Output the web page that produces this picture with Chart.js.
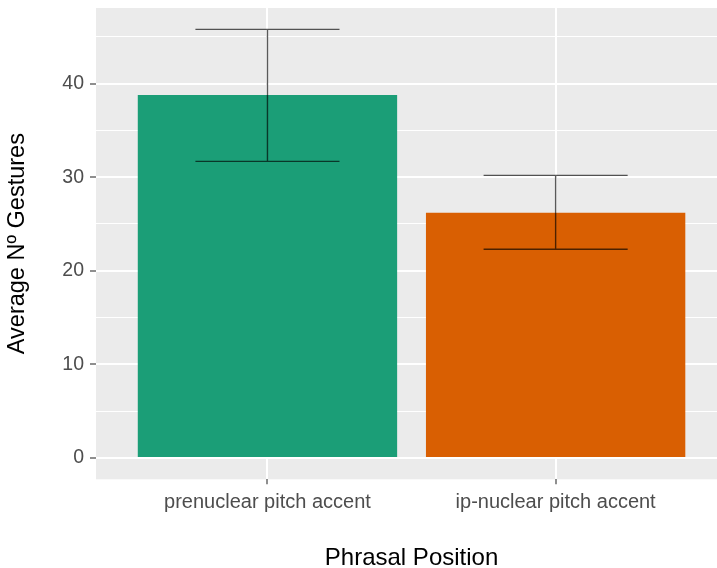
<!DOCTYPE html>
<html lang="en">
<head>
  <meta charset="UTF-8">
  <script src="https://cdn.jsdelivr.net/npm/chart.js"></script>
  <title>Average Nº Gestures by Phrasal Position</title>
  <style>
    html, body { margin: 0; padding: 0; background: #fff; }
    #wrap { width: 717px; height: 568px; }
  </style>
</head>
<body>
<div id="wrap">
  <canvas id="grafico" width="717" height="568"></canvas>
</div>

<script>
  // dados
  const categorias = ['prenuclear pitch accent', 'ip-nuclear pitch accent'];
  const medias = [38.8, 26.2];
  const erroMin = [31.7, 22.3];
  const erroMax = [45.8, 30.2];
  const coresBarras = ['#1B9E77', '#D95F02'];
  const ticksY = [0, 5, 10, 15, 20, 25, 30, 35, 40, 45];
  const tituloX = 'Phrasal Position';
  const tituloY = 'Average Nº Gestures';

  const fonte = "'Liberation Sans', Arial, sans-serif";

  // fundo cinza do painel (estilo ggplot)
  const fundoPainel = {
    id: 'fundoPainel',
    beforeDraw(chart) {
      const a = chart.chartArea;
      const ctx = chart.ctx;
      ctx.save();
      ctx.fillStyle = '#EBEBEB';
      ctx.fillRect(a.left, a.top, a.right - a.left, a.bottom - a.top);
      ctx.restore();
    }
  };

  // barras de erro + titulo do eixo x centrado no painel completo (1.5 = meio entre as categorias)
  const barrasErro = {
    id: 'barrasErro',
    afterDatasetsDraw(chart) {
      const ctx = chart.ctx;
      const x = chart.scales.x;
      const y = chart.scales.y;
      ctx.save();
      ctx.strokeStyle = 'rgba(0,0,0,0.65)';
      ctx.lineWidth = 1.4;
      categorias.forEach((c, i) => {
        const cx = x.getPixelForValue(i + 1);
        const x0 = x.getPixelForValue(i + 1 - 0.25);
        const x1 = x.getPixelForValue(i + 1 + 0.25);
        const yLo = y.getPixelForValue(erroMin[i]);
        const yHi = y.getPixelForValue(erroMax[i]);
        ctx.beginPath();
        ctx.moveTo(cx, yHi);
        ctx.lineTo(cx, yLo);
        ctx.moveTo(x0, yHi);
        ctx.lineTo(x1, yHi);
        ctx.moveTo(x0, yLo);
        ctx.lineTo(x1, yLo);
        ctx.stroke();
      });

      ctx.fillStyle = '#000';
      ctx.font = '24px ' + fonte;
      ctx.textAlign = 'center';
      ctx.textBaseline = 'alphabetic';
      ctx.fillText(tituloX, x.getPixelForValue(1.5), 565);
      ctx.restore();
    }
  };

  const dados = {
    datasets: [{
      label: tituloY,
      data: categorias.map((c, i) => ({ x: i + 1, y: medias[i] })),
      backgroundColor: coresBarras,
      borderWidth: 0,
      barPercentage: 0.9,
      categoryPercentage: 1.0
    }]
  };

  const config = {
    type: 'bar',
    data: dados,
    options: {
      responsive: false,
      animation: false,
      layout: { padding: { top: 8, right: 0, left: 0, bottom: 0 } },
      plugins: {
        legend: { display: false },
        tooltip: { enabled: false }
      },
      scales: {
        x: {
          type: 'linear',
          min: 0.405,
          max: 2.56,
          offset: false,
          afterBuildTicks: (s) => { s.ticks = categorias.map((c, i) => ({ value: i + 1 })); },
          afterFit: (s) => { s.height = 88.7; s.paddingLeft = 0; s.paddingRight = 0; },
          grid: {
            offset: false,
            color: '#FFFFFF',
            lineWidth: 2,
            tickColor: '#333333',
            tickWidth: 1.1,
            tickLength: 5
          },
          border: { display: false },
          ticks: {
            color: '#4D4D4D',
            padding: 6,
            maxRotation: 0,
            autoSkip: false,
            font: { family: fonte, size: 20 },
            callback: (v) => categorias[v - 1] || ''
          }
        },
        y: {
          min: -2.29,
          max: 48.09,
          afterBuildTicks: (s) => { s.ticks = ticksY.map(v => ({ value: v })); },
          afterFit: (s) => { s.width = 96; s.paddingTop = 0; s.paddingBottom = 0; },
          grid: {
            color: '#FFFFFF',
            lineWidth: (ctx) => (ctx.tick && ctx.tick.value % 10 === 0 ? 2 : 1.1),
            tickColor: (ctx) => (ctx.tick && ctx.tick.value % 10 === 0 ? '#333333' : 'rgba(0,0,0,0)'),
            tickWidth: 1.1,
            tickLength: 6
          },
          border: { display: false },
          ticks: {
            color: '#4D4D4D',
            padding: 6,
            font: { family: fonte, size: 19.5 },
            callback: (v) => (v % 10 === 0 ? v : '')
          },
          title: {
            display: true,
            text: tituloY,
            color: '#000',
            font: { family: fonte, size: 23.5, lineHeight: 1.2 },
            padding: { top: 3, bottom: 0 }
          }
        }
      }
    },
    plugins: [fundoPainel, barrasErro]
  };

  new Chart(document.getElementById('grafico').getContext('2d'), config);
</script>
</body>
</html>
